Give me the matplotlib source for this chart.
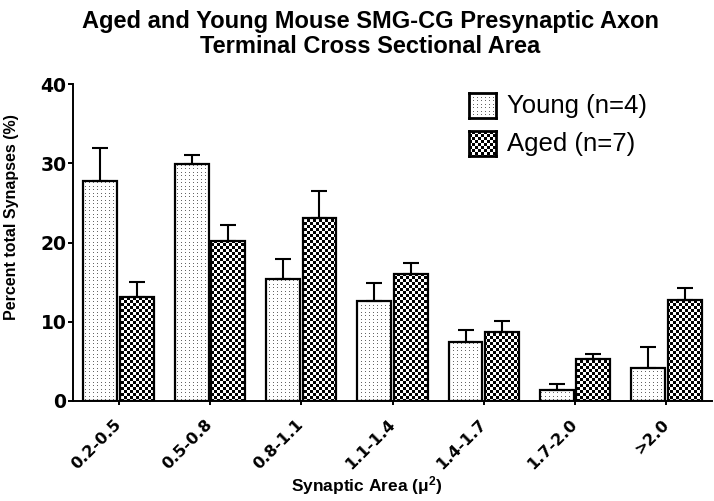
import numpy as np
import matplotlib
matplotlib.use("Agg")
import matplotlib.pyplot as plt
from matplotlib.path import Path

# values (mean % of synapses, SEM)
categories = ["0.2-0.5", "0.5-0.8", "0.8-1.1", "1.1-1.4", "1.4-1.7", "1.7-2.0", ">2.0"]
young_mean = [27.8, 29.95, 15.35, 12.6, 7.5, 1.45, 4.15]
young_sem = [4.1, 1.05, 2.6, 2.3, 1.5, 0.75, 2.7]
aged_mean = [13.1, 20.2, 23.05, 16.0, 8.75, 5.25, 12.8]
aged_sem = [1.9, 2.0, 3.45, 1.4, 1.35, 0.65, 1.45]
y_ticks = [0, 10, 20, 30, 40]
legend_labels = ["Young (n=4)", "Aged (n=7)"]

W, H, DPI = 714, 501, 100


def checker(h, w, cell=3):
    """Black/white checkerboard texture, 1 = black."""
    i, j = np.indices((h, w))
    return (((i // cell) + (j // cell)) % 2).astype(float)


def dots(h, w):
    """Fine grey dot texture on white."""
    i, j = np.indices((h, w))
    on = ((2 * i) % 7 < 2) & (j % 4 == 0)
    return np.where(on, 0.6, 0.0)


def bars_path(bars):
    return Path.make_compound_path(
        *[b.get_path().transformed(b.get_patch_transform()) for b in bars])


fig = plt.figure(figsize=(W / DPI, H / DPI), dpi=DPI, facecolor="white")

# axes box in pixels
L, R, T, B = 73, 712, 84, 401
ax = fig.add_axes([L / W, 1 - B / H, (R - L) / W, (B - T) / H])

n = len(categories)
x = np.arange(n)
bw, off = 0.37, 0.2
xlim, ylim = (-0.5, n - 0.5), (0, 40)

young_fill = ax.bar(x - off, young_mean, bw, color="white", edgecolor="none", zorder=1)
aged_fill = ax.bar(x + off, aged_mean, bw, color="white", edgecolor="none", zorder=1)

# textures clipped to the bars
for bars, tex in [(young_fill, dots), (aged_fill, checker)]:
    img = ax.imshow(tex(B - T, R - L), cmap="gray_r", vmin=0, vmax=1,
                    extent=(*xlim, *ylim), interpolation="nearest",
                    aspect="auto", zorder=2)
    img.set_clip_path(bars_path(bars), ax.transData)

# outlines
ax.bar(x - off, young_mean, bw, facecolor="none", edgecolor="black", linewidth=1.6, zorder=3)
ax.bar(x + off, aged_mean, bw, facecolor="none", edgecolor="black", linewidth=1.6, zorder=3)

zeros = np.zeros(n)
ax.errorbar(x - off, young_mean, yerr=[zeros, young_sem], fmt="none", ecolor="black",
            elinewidth=1.5, capsize=5.8, capthick=1.5, zorder=4)
ax.errorbar(x + off, aged_mean, yerr=[zeros, aged_sem], fmt="none", ecolor="black",
            elinewidth=1.5, capsize=5.8, capthick=1.5, zorder=4)

ax.set_xlim(*xlim)
ax.set_ylim(*ylim)

for side in ["top", "right"]:
    ax.spines[side].set_visible(False)
for side in ["left", "bottom"]:
    ax.spines[side].set_linewidth(1.4)
    ax.spines[side].set_zorder(5)

ax.set_xticks(x)
ax.set_xticklabels(categories, rotation=45, ha="right", va="center",
                   rotation_mode="anchor", fontsize=11.5, fontweight="bold",
                   family="DejaVu Sans")
ax.set_yticks(y_ticks)
ax.set_yticklabels([str(v) for v in y_ticks], fontsize=13.5, fontweight="bold",
                   family="DejaVu Sans")
ax.tick_params(axis="x", length=3, width=1.4, pad=12)
ax.tick_params(axis="y", length=3.6, width=1.4, pad=1)

# title and axis labels
fig.text(370 / W, 1 - 34 / H,
         "Aged and Young Mouse SMG-CG Presynaptic Axon\nTerminal Cross Sectional Area",
         ha="center", va="center", fontsize=17, fontweight="bold",
         family="Liberation Sans", linespacing=1.15)
fig.text(12 / W, 1 - 217 / H, "Percent total Synapses (%)", rotation=90,
         ha="center", va="center", fontsize=11.5, fontweight="bold",
         family="Liberation Sans")
fig.text(367 / W, 1 - 486 / H, r"Synaptic Area ($\mathregular{\mu^2}$)",
         ha="center", va="center", fontsize=12.5, fontweight="bold",
         family="Liberation Sans")

# legend: swatches as tiny axes so the textures fit exactly
sw_x, sw_w, sw_h = 469, 27, 25
for label, tex, top in [(legend_labels[0], dots, 93), (legend_labels[1], checker, 131)]:
    sax = fig.add_axes([sw_x / W, 1 - (top + sw_h) / H, sw_w / W, sw_h / H])
    sax.imshow(tex(sw_h, sw_w), cmap="gray_r", vmin=0, vmax=1,
               interpolation="nearest", aspect="auto")
    sax.set_xticks([])
    sax.set_yticks([])
    for sp in sax.spines.values():
        sp.set_linewidth(2)
    fig.text(507 / W, 1 - (top + sw_h / 2) / H, label, ha="left", va="center",
             fontsize=18.5, family="Liberation Sans")

fig.savefig("out.png", dpi=DPI, facecolor="white")
